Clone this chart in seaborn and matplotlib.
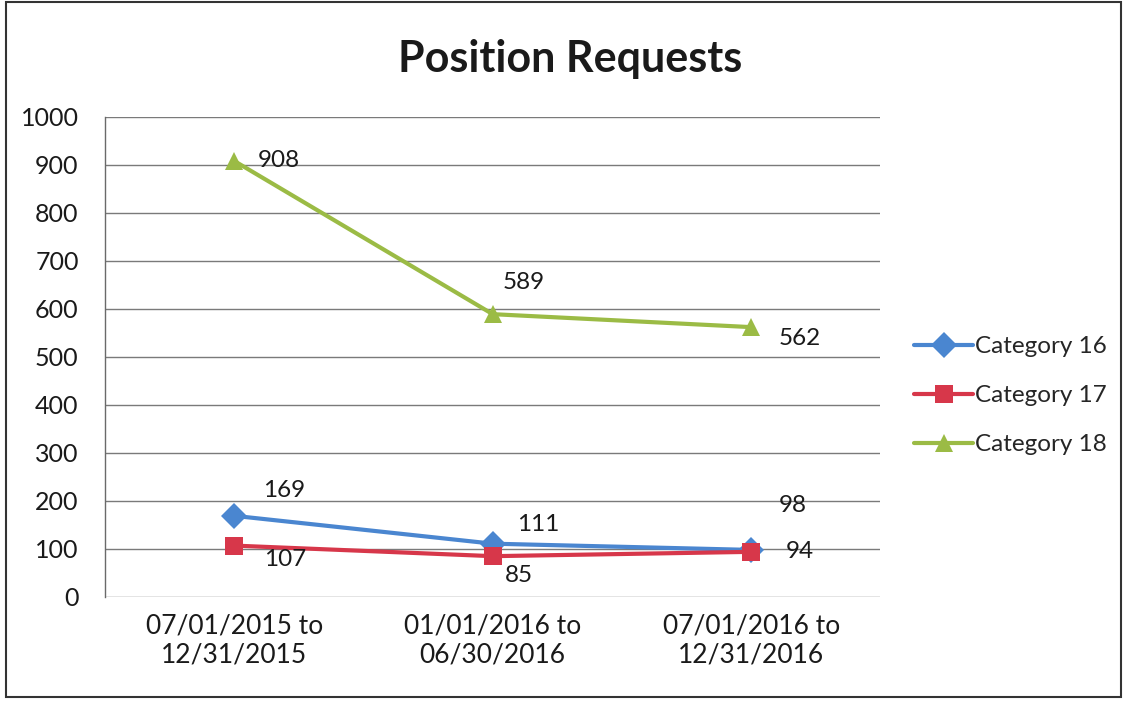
import pandas as pd
import matplotlib.pyplot as plt
import seaborn as sns
from matplotlib.patches import Rectangle

periods = ['07/01/2015 to\n12/31/2015', '01/01/2016 to\n06/30/2016', '07/01/2016 to\n12/31/2016']
cat16 = [169, 111, 98]
cat17 = [107, 85, 94]
cat18 = [908, 589, 562]
series_names = ['Category 16', 'Category 17', 'Category 18']

# label offsets in points (dx, dy) for each series / point
offsets = {
    'Category 16': [(36, 18), (33, 14), (30, 32)],
    'Category 17': [(37, -10), (19, -14), (35, 0)],
    'Category 18': [(32, 0), (22, 23), (35, -8)],
}

df = pd.DataFrame({
    'period': periods * 3,
    'value': cat16 + cat17 + cat18,
    'series': [s for s in series_names for _ in periods],
})

sns.set_style('white')
plt.rcParams['font.family'] = ['Lato', 'DejaVu Sans']

colors = {'Category 16': '#4a86d0', 'Category 17': '#d7374a', 'Category 18': '#9bbb45'}
markers = {'Category 16': 'D', 'Category 17': 's', 'Category 18': '^'}

fig = plt.figure(figsize=(11.27, 7.02), dpi=100)
ax = fig.add_axes([0.0932, 0.1496, 0.688, 0.684])

sns.lineplot(data=df, x='period', y='value', hue='series', style='series',
             markers=markers, dashes=False, palette=colors, linewidth=3,
             markersize=13, markeredgewidth=0, ax=ax, sort=False)

for name, vals in zip(series_names, [cat16, cat17, cat18]):
    for i, v in enumerate(vals):
        ax.annotate(str(v), (i, v), xytext=offsets[name][i], textcoords='offset points',
                    ha='center', va='center', fontsize=17.5, color='#1a1a1a')

ax.set_ylim(0, 1000)
ax.set_xlim(-0.5, 2.5)
ax.set_yticks(range(0, 1001, 100))
ax.yaxis.grid(True, color='#7a7a7a', linewidth=1)
ax.set_axisbelow(True)
ax.tick_params(axis='y', labelsize=18, colors='#1a1a1a', length=0, pad=19)
ax.tick_params(axis='x', labelsize=19, colors='#1a1a1a', length=0, pad=12)
ax.set_xlabel('')
ax.set_ylabel('')
for side in ['top', 'right', 'bottom']:
    ax.spines[side].set_visible(False)
ax.spines['left'].set_color('#6a6a6a')
ax.spines['left'].set_linewidth(1)

ax.set_title('Position Requests', fontsize=31, fontweight='bold', color='#1a1a1a',
             pad=32, x=0.6)

leg = ax.legend(loc='center left', bbox_to_anchor=(1.043, 0.419), frameon=False,
                fontsize=17.5, handlelength=2.45, handletextpad=0.05, labelspacing=1.15,
                borderaxespad=0, borderpad=0)
for line in leg.get_lines():
    line.set_linewidth(3)

fig.patches.append(Rectangle((0.005, 0.007), 0.99, 0.99, transform=fig.transFigure,
                             fill=False, edgecolor='#333333', linewidth=1.5))

fig.savefig('out.png', dpi=100)
